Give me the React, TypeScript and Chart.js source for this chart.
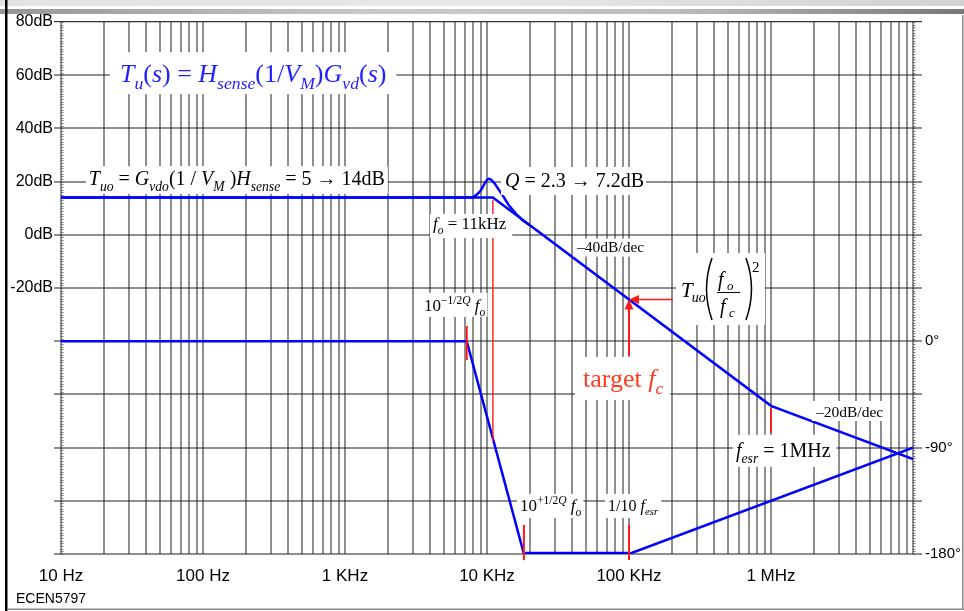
import React, { useEffect, useRef } from "react";
import { Chart, registerables } from "chart.js";
Chart.register(...registerables);

// ---------------- data ----------------
const DECADES = [10, 100, 1000, 10000, 100000, 1000000, 10000000];
const DECADE_LABELS = ["10 Hz", "100 Hz", "1 KHz", "10 KHz", "100 KHz", "1 MHz", ""];
const GRID_MULTIPLIERS = [1, 2, 3, 4, 5, 6, 7, 8, 9];
const DB_TICKS = [80, 60, 40, 20, 0, -20, -40, -60, -80, -100, -120];
const DB_LABELS = ["80dB", "60dB", "40dB", "20dB", "0dB", "-20dB", "", "", "", "", ""];
const DEG_TICKS = [270, 225, 180, 135, 90, 45, 0, -45, -90, -135, -180];
const DEG_LABELS = ["", "", "", "", "", "", "0°", "", "-90°", "", "-180°"];

const ASYM_FREQ = [10, 11000, 1000000, 10000000];
const ASYM_DB = [14, 14, -64.3, -84.3];
const EXACT_FREQ = [10, 7800, 8900, 10300, 12400, 14500, 17600, 20000];
const EXACT_DB = [14, 14, 16.2, 21.1, 16.2, 10.6, 5.7, 3.6];
const PHASE_FREQ = [10, 7200, 18200, 100000, 10000000];
const PHASE_DEG = [0, 0, -180, -180, -90];

// ---------------- styles ----------------
const BLUE = "#0000ff";
const RED = "#ff1a1a";
const GRID = "rgba(30,30,30,0.5)";
const SERIF = '"Liberation Serif", "Times New Roman", serif';
const SANS = '"Liberation Sans", Arial, Helvetica, sans-serif';

type Seg = { t: string; i?: boolean; s?: "sub" | "sup" };
type Note = {
  f: number; db: number; size: number; color: string; segs: Seg[];
  pad: [number, number, number, number];
};

const NOTES: Note[] = [
  {
    f: 26, db: 57.4, size: 26, color: "#1f1fff", pad: [10, 10, 30, 12],
    segs: [
      { t: "T", i: true }, { t: "u", i: true, s: "sub" }, { t: "(" }, { t: "s", i: true }, { t: ")" },
      { t: " = " }, { t: "H", i: true }, { t: "sense", i: true, s: "sub" }, { t: "(1/" },
      { t: "V", i: true }, { t: "M", i: true, s: "sub" }, { t: ")" }, { t: "G", i: true },
      { t: "vd", i: true, s: "sub" }, { t: "(" }, { t: "s", i: true }, { t: ")" },
    ],
  },
  {
    f: 15.7, db: 18.7, size: 20, color: "#000", pad: [3, 3, 19, 9],
    segs: [
      { t: "T", i: true }, { t: "uo", i: true, s: "sub" }, { t: " = " }, { t: "G", i: true },
      { t: "vdo", i: true, s: "sub" }, { t: "(1 / " }, { t: "V", i: true }, { t: "M", i: true, s: "sub" },
      { t: " )" }, { t: "H", i: true }, { t: "sense", i: true, s: "sub" }, { t: " = 5 → 14dB" },
    ],
  },
  {
    f: 13390, db: 18.0, size: 20, color: "#000", pad: [4, 2, 20, 8],
    segs: [{ t: "Q", i: true }, { t: " = 2.3 → 7.2dB" }],
  },
  {
    f: 4166, db: 2.2, size: 17, color: "#000", pad: [3, 6, 15, 9],
    segs: [{ t: "f", i: true }, { t: "o", i: true, s: "sub" }, { t: " = 11kHz" }],
  },
  {
    f: 43030, db: -6.3, size: 15.5, color: "#000", pad: [4, 3, 13, 5],
    segs: [{ t: "–40dB/dec" }],
  },
  {
    f: 3600, db: -28.6, size: 17, color: "#000", pad: [4, 2, 18, 6],
    segs: [{ t: "10" }, { t: "−1/2", s: "sup" }, { t: "Q", i: true, s: "sup" }, { t: " " }, { t: "f", i: true }, { t: "o", i: true, s: "sub" }],
  },
  {
    f: 47450, db: -57.2, size: 26, color: "#ff3b1f", pad: [8, 7, 30, 13],
    segs: [{ t: "target " }, { t: "f", i: true }, { t: "c", i: true, s: "sub" }],
  },
  {
    f: 2075000, db: -68.5, size: 15.5, color: "#000", pad: [4, 3, 16, 4],
    segs: [{ t: "–20dB/dec" }],
  },
  {
    f: 566900, db: -83.5, size: 20, color: "#000", pad: [3, 6, 22, 10],
    segs: [{ t: "f", i: true }, { t: "esr", i: true, s: "sub" }, { t: " = 1MHz" }],
  },
  {
    f: 17080, db: -103.8, size: 17, color: "#000", pad: [3, 2, 17, 7],
    segs: [{ t: "10" }, { t: "+1/2", s: "sup" }, { t: "Q", i: true, s: "sup" }, { t: " " }, { t: "f", i: true }, { t: "o", i: true, s: "sub" }],
  },
  {
    f: 71140, db: -103.8, size: 16, color: "#000", pad: [3, 3, 17, 7],
    segs: [{ t: "1/10 " }, { t: "f", i: true }, { t: "esr", i: true, s: "sub" }],
  },
];

// anchor of the T_uo (f_o/f_c)^2 label
const FRAC_NOTE = { f: 232400, db: -23.4 };

// red marker lines: [freq, dbFrom, dbTo, width]
const RED_MARKS: [number, number, number, number][] = [
  [11000, 13.1, -77.5, 1.4],
  [7200, -34.3, -47.1, 2],
  [18200, -109.1, -122.3, 2],
  [100000, -109.1, -122.3, 2],
  [1000000, -65.1, -74.5, 2],
];
// target arrows
const ARROW_F = 100000;
const ARROW_DB = -24.3;
const ARROW_V_FROM_DB = -45.5;
const ARROW_H_FROM_F = 204000;

function drawRich(ctx: CanvasRenderingContext2D, segs: Seg[], x: number, y: number, size: number, color: string, measureOnly = false) {
  let cx = x;
  for (const sg of segs) {
    const fs = sg.s ? size * 0.68 : size;
    const dy = sg.s === "sub" ? size * 0.28 : sg.s === "sup" ? -size * 0.42 : 0;
    ctx.font = `${sg.i ? "italic " : ""}${fs}px ${SERIF}`;
    if (!measureOnly) {
      ctx.fillStyle = color;
      ctx.fillText(sg.t, cx, y + dy);
    }
    cx += ctx.measureText(sg.t).width;
  }
  return cx - x;
}

const framePlugin = {
  id: "frame",
  beforeDraw(chart: any) {
    const ctx = chart.ctx as CanvasRenderingContext2D;
    const W = chart.width;
    ctx.save();
    ctx.fillStyle = "#fff";
    ctx.fillRect(0, 0, W, chart.height);
    const g1 = ctx.createLinearGradient(0, 0, W, 0);
    g1.addColorStop(0, "#e2e2e2");
    g1.addColorStop(0.5, "#e8e8e8");
    g1.addColorStop(1, "#d2d2d2");
    ctx.fillStyle = g1;
    ctx.fillRect(0, 0, W, 6);
    const g2 = ctx.createLinearGradient(0, 0, W, 0);
    g2.addColorStop(0, "#969696");
    g2.addColorStop(0.4, "#cbcbcb");
    g2.addColorStop(0.7, "#bdbdbd");
    g2.addColorStop(1, "#777777");
    ctx.fillStyle = g2;
    ctx.fillRect(0, 9, W, 5);
    ctx.restore();
  },
  beforeDatasetsDraw(chart: any) {
    // fine minor ticks along both vertical axes (every 1 dB)
    const ctx = chart.ctx as CanvasRenderingContext2D;
    const y = chart.scales.y;
    const a = chart.chartArea;
    ctx.save();
    ctx.strokeStyle = "rgba(90,90,90,0.8)";
    ctx.lineWidth = 1;
    for (let v = DB_TICKS[DB_TICKS.length - 1]; v <= DB_TICKS[0]; v += 1) {
      const py = Math.round(y.getPixelForValue(v)) + 0.5;
      ctx.beginPath();
      ctx.moveTo(a.left, py);
      ctx.lineTo(a.left + 2.5, py);
      ctx.moveTo(a.right, py);
      ctx.lineTo(a.right + 2.5, py);
      ctx.stroke();
    }
    ctx.restore();
  },
  afterDatasetsDraw(chart: any) {
    const ctx = chart.ctx as CanvasRenderingContext2D;
    const xs = chart.scales.x, ys = chart.scales.y;
    const px = (f: number) => xs.getPixelForValue(f);
    const py = (d: number) => ys.getPixelForValue(d);
    ctx.save();
    // red markers
    ctx.strokeStyle = RED;
    for (const [f, d1, d2, w] of RED_MARKS) {
      ctx.lineWidth = w;
      ctx.beginPath();
      ctx.moveTo(px(f), py(d1));
      ctx.lineTo(px(f), py(d2));
      ctx.stroke();
    }
    // arrows to target
    const tx = px(ARROW_F), ty = py(ARROW_DB);
    ctx.fillStyle = RED;
    ctx.lineWidth = 2;
    ctx.beginPath();
    ctx.moveTo(tx, py(ARROW_V_FROM_DB));
    ctx.lineTo(tx, ty + 8);
    ctx.stroke();
    ctx.beginPath();
    ctx.moveTo(tx, ty);
    ctx.lineTo(tx - 4.5, ty + 10);
    ctx.lineTo(tx + 4.5, ty + 10);
    ctx.closePath();
    ctx.fill();
    ctx.lineWidth = 1.5;
    ctx.beginPath();
    ctx.moveTo(px(ARROW_H_FROM_F), ty);
    ctx.lineTo(tx + 8, ty);
    ctx.stroke();
    ctx.beginPath();
    ctx.moveTo(tx, ty);
    ctx.lineTo(tx + 10, ty - 4.5);
    ctx.lineTo(tx + 10, ty + 4.5);
    ctx.closePath();
    ctx.fill();

    // text notes with white boxes
    ctx.textBaseline = "alphabetic";
    ctx.textAlign = "left";
    for (const n of NOTES) {
      const x = px(n.f), y = py(n.db);
      const w = drawRich(ctx, n.segs, x, y, n.size, n.color, true);
      ctx.fillStyle = "#fff";
      ctx.fillRect(x - n.pad[0], y - n.pad[2], w + n.pad[0] + n.pad[1], n.pad[2] + n.pad[3]);
      drawRich(ctx, n.segs, x, y, n.size, n.color);
    }

    // T_uo (f_o / f_c)^2
    const ax = px(FRAC_NOTE.f), ay = py(FRAC_NOTE.db);
    ctx.fillStyle = "#fff";
    ctx.fillRect(ax - 5, ay - 44, 89, 72);
    ctx.fillStyle = "#000";
    ctx.font = `italic 21px ${SERIF}`;
    ctx.fillText("T", ax, ay);
    const wT = ctx.measureText("T").width;
    ctx.font = `italic 14px ${SERIF}`;
    ctx.fillText("uo", ax + wT - 1, ay + 5);
    ctx.strokeStyle = "#000";
    ctx.lineWidth = 1.5;
    ctx.beginPath();
    ctx.moveTo(ax + 31, ay - 39);
    ctx.quadraticCurveTo(ax + 20, ay - 8, ax + 31, ay + 23);
    ctx.moveTo(ax + 65, ay - 39);
    ctx.quadraticCurveTo(ax + 76, ay - 8, ax + 65, ay + 23);
    ctx.stroke();
    ctx.font = `italic 20px ${SERIF}`;
    ctx.fillText("f", ax + 37, ay - 11);
    ctx.fillText("f", ax + 39, ay + 16);
    ctx.font = `italic 13px ${SERIF}`;
    ctx.fillText("o", ax + 46, ay - 7);
    ctx.fillText("c", ax + 48, ay + 20);
    ctx.fillRect(ax + 36, ay - 5, 23, 1);
    ctx.font = `15px ${SERIF}`;
    ctx.fillText("2", ax + 71, ay - 25);
    ctx.restore();
  },
  afterDraw(chart: any) {
    const ctx = chart.ctx as CanvasRenderingContext2D;
    const W = chart.width, H = chart.height;
    ctx.save();
    ctx.fillStyle = "#000";
    ctx.fillRect(5, 0, 2.5, H);
    ctx.fillStyle = "#8a8a8a";
    ctx.fillRect(7, H - 2.5, W - 7, 1.5);
    ctx.fillRect(W - 2, 15, 1.5, H - 16);
    ctx.fillStyle = "#000";
    ctx.font = `14px ${SANS}`;
    ctx.textBaseline = "alphabetic";
    ctx.fillText("ECEN5797", 16, 603);
    ctx.restore();
  },
};

const GRID_FREQS: number[] = [];
for (let d = 0; d < DECADES.length - 1; d++) {
  for (const m of GRID_MULTIPLIERS) GRID_FREQS.push(m * DECADES[d]);
}
GRID_FREQS.push(DECADES[DECADES.length - 1]);

export default function App() {
  const ref = useRef<HTMLCanvasElement>(null);
  useEffect(() => {
    const canvas = ref.current!;
    const pts = (xs: number[], ys: number[]) => xs.map((x, i) => ({ x, y: ys[i] }));
    const chart = new Chart(canvas, {
      type: "line",
      data: {
        datasets: [
          { data: pts(ASYM_FREQ, ASYM_DB), yAxisID: "y", borderColor: BLUE, borderWidth: 2.5, pointRadius: 0, tension: 0 },
          { data: pts(EXACT_FREQ, EXACT_DB), yAxisID: "y", borderColor: BLUE, borderWidth: 2.5, pointRadius: 0, cubicInterpolationMode: "monotone" },
          {
            data: pts(PHASE_FREQ, PHASE_DEG), yAxisID: "y1", borderColor: BLUE, borderWidth: 2.5, pointRadius: 0, tension: 0,
            segment: { borderWidth: (c: any) => (c.p0.parsed.y === c.p1.parsed.y && c.p0.parsed.y === PHASE_DEG[2] ? 4.5 : 2.5) },
          },
        ],
      } as any,
      options: {
        animation: false,
        responsive: false,
        maintainAspectRatio: false,
        devicePixelRatio: 1,
        layout: { padding: { top: 22, left: 0, right: 0, bottom: 0 } },
        plugins: { legend: { display: false }, tooltip: { enabled: false } },
        scales: {
          x: {
            type: "logarithmic",
            min: DECADES[0],
            max: DECADES[DECADES.length - 1],
            afterBuildTicks: (s: any) => { s.ticks = GRID_FREQS.map((v) => ({ value: v })); },
            afterFit: (s: any) => { s.height = 57; },
            border: { display: false },
            grid: { color: GRID, lineWidth: 2, drawTicks: false },
            ticks: {
              autoSkip: false, maxRotation: 0, minRotation: 0, padding: 12, color: "#000",
              font: { family: SANS, size: 17 },
              callback: (v: any) => { const i = DECADES.indexOf(Number(v)); return i >= 0 ? DECADE_LABELS[i] : ""; },
            },
          },
          y: {
            type: "linear", position: "left",
            min: DB_TICKS[DB_TICKS.length - 1], max: DB_TICKS[0],
            afterBuildTicks: (s: any) => { s.ticks = DB_TICKS.map((v) => ({ value: v })); },
            afterFit: (s: any) => { s.width = 61; },
            border: { display: false },
            grid: {
              color: (c: any) => (c.tick && c.tick.value === DB_TICKS[0] ? "#333" : GRID),
              lineWidth: (c: any) => (c.tick && c.tick.value === DB_TICKS[0] ? 1.2 : 2),
              tickLength: 7,
            },
            ticks: {
              autoSkip: false, padding: 1, color: "#000",
              font: { family: SANS, size: 16 },
              callback: (v: any) => { const i = DB_TICKS.indexOf(Number(v)); return i >= 0 ? DB_LABELS[i] : ""; },
            },
          },
          y1: {
            type: "linear", position: "right",
            min: DEG_TICKS[DEG_TICKS.length - 1], max: DEG_TICKS[0],
            afterBuildTicks: (s: any) => { s.ticks = DEG_TICKS.map((v) => ({ value: v })); },
            afterFit: (s: any) => { s.width = 51; },
            border: { display: false },
            grid: {
              drawOnChartArea: false,
              color: (c: any) => (c.tick && c.tick.value === DEG_TICKS[0] ? "#333" : GRID),
              lineWidth: (c: any) => (c.tick && c.tick.value === DEG_TICKS[0] ? 1.2 : 2),
              tickLength: 9,
            },
            ticks: {
              autoSkip: false, padding: 3, color: "#000",
              font: { family: SANS, size: 15 },
              callback: (v: any) => { const i = DEG_TICKS.indexOf(Number(v)); return i >= 0 ? DEG_LABELS[i] : ""; },
            },
          },
        },
      } as any,
      plugins: [framePlugin],
    });
    return () => chart.destroy();
  }, []);
  return (
    <div style={{ position: "fixed", left: 0, top: 0, width: 964, height: 611, background: "#fff" }}>
      <canvas ref={ref} width={964} height={611} style={{ display: "block", width: 964, height: 611 }} />
    </div>
  );
}
